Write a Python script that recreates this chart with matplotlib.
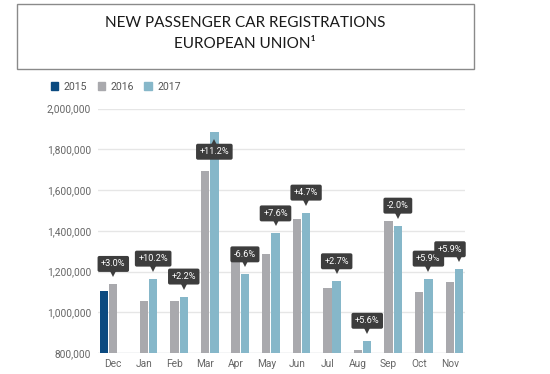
import matplotlib
matplotlib.use("Agg")
import matplotlib.pyplot as plt
from matplotlib.patches import Rectangle
from matplotlib.transforms import offset_copy
from matplotlib.ticker import FuncFormatter
import numpy as np

#-------data-------
months = ["Dec", "Jan", "Feb", "Mar", "Apr", "May", "Jun", "Jul", "Aug", "Sep", "Oct", "Nov"]
reg2015 = [1106000, None, None, None, None, None, None, None, None, None, None, None]
reg2016 = [1139000, 1057000, 1054000, 1695000, 1270000, 1286000, 1458000, 1117000, 813000, 1449000, 1099000, 1147000]
reg2017 = [None, 1165000, 1077000, 1886000, 1186000, 1387000, 1489000, 1152000, 860000, 1425000, 1165000, 1211000]
changes = ["+3.0%", "+10.2%", "+2.2%", "+11.2%", "-6.6%", "+7.6%", "+4.7%", "+2.7%", "+5.6%", "-2.0%", "+5.9%", "+5.9%"]
yticks = [800000, 1000000, 1200000, 1400000, 1600000, 1800000, 2000000]

#-------style-------
c2015 = "#0b4a80"
c2016 = "#a9a9ad"
c2017 = "#86b7c9"
labelgray = "#666666"
W, H = 550, 374

fig = plt.figure(figsize=(W / 100, H / 100), dpi=100)
ax = fig.add_axes([98 / W, (H - 353) / H, 367 / W, 244.5 / H])

x = np.arange(len(months))
step = 0.304
bw = 0.275
for series, off, col in [(reg2015, -step, c2015), (reg2016, 0, c2016), (reg2017, step, c2017)]:
    xs = [xi + off for xi, v in zip(x, series) if v is not None]
    vs = [v for v in series if v is not None]
    ax.bar(xs, vs, width=bw, color=col, zorder=2, linewidth=0)

ax.set_xlim(-0.5, len(months) - 0.5)
ax.set_ylim(800000, 2000000)
ax.set_yticks(yticks)
ax.yaxis.set_major_formatter(FuncFormatter(lambda v, p: "{:,.0f}".format(v)))
ax.set_xticks(x)
ax.set_xticklabels(months)
ax.tick_params(length=0, labelsize=7.3, labelcolor=labelgray)
ax.tick_params(axis="y", pad=5)
ax.tick_params(axis="x", pad=4)
for lab in ax.get_xticklabels() + ax.get_yticklabels():
    lab.set_fontfamily("Roboto")
ax.grid(axis="y", color="#e6e6e6", linewidth=1, zorder=0)
ax.set_axisbelow(True)
for s in ax.spines.values():
    s.set_visible(False)
ax.axhline(800000, color="#dde3ea", linewidth=1, zorder=1)

#-------change labels-------
fig.canvas.draw()
right_px = ax.transAxes.transform((1, 0))[0]
top_px = ax.transAxes.transform((0, 1))[1]
for i, lab in enumerate(changes):
    if reg2017[i] is not None:
        bx, bv = x[i] + step, reg2017[i]
    else:
        bx, bv = x[i], reg2016[i]
    px, py = ax.transData.transform((bx, bv))
    dy = 20
    if py + dy + 9 > top_px:
        dy = -20
    half = 15
    dx = 0
    if px + half > right_px:
        dx = right_px - half - px
    tr = offset_copy(ax.transData, fig=fig, x=dx, y=dy, units="dots")
    ax.text(bx, bv, lab, transform=tr, ha="center", va="center", fontsize=6.6,
            family="Roboto", color="white", zorder=5,
            bbox=dict(boxstyle="round,pad=0.38,rounding_size=0.2", fc="#3d3d3d", ec="none"))
    sgn = 1 if dy > 0 else -1
    trm = offset_copy(ax.transData, fig=fig, x=0, y=sgn * 10, units="dots")
    ax.plot([bx], [bv], marker="v" if sgn > 0 else "^", markersize=4.5, color="#3d3d3d",
            markeredgewidth=0, transform=trm, zorder=5, clip_on=False)

#-------legend-------
handles = [Rectangle((0, 0), 1, 1, color=c) for c in (c2015, c2016, c2017)]
leg = fig.legend(handles, ["2015", "2016", "2017"], ncol=3, frameon=False,
                 loc="center left", bbox_to_anchor=(51 / W, 1 - 86.5 / H),
                 borderpad=0, borderaxespad=0, handlelength=0.7, handleheight=0.7,
                 handletextpad=0.5, columnspacing=1.0,
                 prop={"family": "Roboto", "size": 7.6})
for t in leg.get_texts():
    t.set_color("#555555")

#-------title box-------
fig.patches.append(Rectangle((17.5 / W, 1 - 69 / H), 456 / W, 65 / H, transform=fig.transFigure,
                             fill=False, edgecolor="#8a8a8a", linewidth=1))
fig.text(245 / W, 1 - 22.7 / H, "NEW PASSENGER CAR REGISTRATIONS", ha="center", va="center",
         fontsize=11, family="Lato", color="#1a1a1a")
fig.text(245 / W, 1 - 43.5 / H, "EUROPEAN UNION\u00b9", ha="center", va="center",
         fontsize=11, family="Lato", color="#1a1a1a")

fig.savefig("out.png", dpi=100)
